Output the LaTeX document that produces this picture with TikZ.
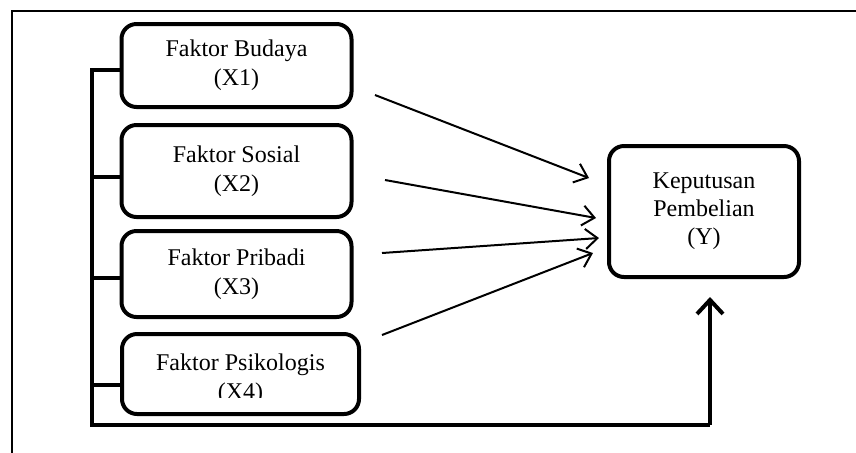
\documentclass[tikz,border=0pt]{standalone}
\usepackage{fontspec}
\setmainfont{Liberation Serif}
\usetikzlibrary{arrows.meta}

\tikzset{
  faktor/.style={draw,line width=2pt,rounded corners=7.5pt,align=center,
    font=\fontsize{12}{14.5}\selectfont},
  pengaruh/.style={line width=1pt,-{Straight Barb[length=6pt,width=10pt]}},
  garis/.style={line width=2pt}
}

\begin{document}
\begin{tikzpicture}[x=0.5pt,y=-0.5pt]
    \useasboundingbox (0,0) rectangle (856,452);
    % bingkai luar
    \draw[line width=1pt] (12,460) -- (12,11) -- (860,11);

    \node[faktor,minimum width=115pt,minimum height=41.5pt] (X1) at (236.5,65.5) {Faktor Budaya\\(X1)};
    \node[faktor,minimum width=115pt,minimum height=46pt] (X2) at (236.5,171) {Faktor Sosial\\(X2)};
    \node[faktor,minimum width=115pt,minimum height=43pt] (X3) at (236.5,274) {Faktor Pribadi\\(X3)};
    \node[faktor,minimum width=118.5pt,minimum height=40pt] (X4) at (240.5,374) {};
    \begin{scope}
        \clip (122,340) rectangle (358,397);
        \node[align=center,font=\fontsize{12}{14.5}\selectfont] (X4teks) at (240.5,379) {Faktor Psikologis\\(X4)};
    \end{scope}
    \node[faktor,minimum width=95pt,minimum height=65.5pt,font=\fontsize{12}{14}\selectfont] (Y) at (704,211.5) {Keputusan\\Pembelian\\(Y)};

    % garis kurung kiri
    \coordinate (t1) at (92,70);
    \coordinate (t2) at (92,177);
    \coordinate (t3) at (92,278);
    \coordinate (t4) at (92,385);
    \coordinate (bawah) at (92,425);
    \coordinate (sudut) at (710,425);
    \coordinate (ujung) at (710,297);
    \draw[garis] (t1 -| X1.west) -- (t1) -- (bawah) -- (sudut);
    \draw[garis,-{Straight Barb[length=7pt,width=13pt]}] (sudut) -- (ujung);
    \draw[garis] (t2) -- (t2 -| X2.west);
    \draw[garis] (t3) -- (t3 -| X3.west);
    \draw[garis] (t4) -- (t4 -| X4.west);

    % panah pengaruh
    \coordinate (a1) at (375,95);
    \coordinate (a2) at (385,180);
    \coordinate (a3) at (382,253);
    \coordinate (a4) at (382,335);
    \coordinate (e1) at (589,178);
    \coordinate (e2) at (596,218);
    \coordinate (e3) at (599,238);
    \coordinate (e4) at (593,253);
    \draw[pengaruh] (a1) -- (e1);
    \draw[pengaruh] (a2) -- (e2);
    \draw[pengaruh] (a3) -- (e3);
    \draw[pengaruh] (a4) -- (e4);
\end{tikzpicture}
\end{document}
